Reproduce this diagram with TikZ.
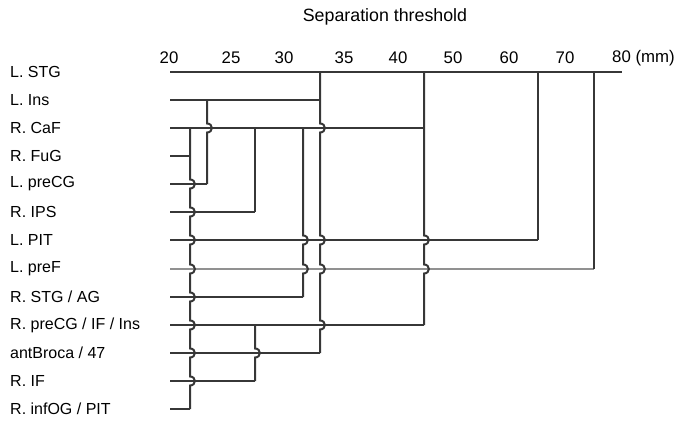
\documentclass[tikz,border=0pt]{standalone}
\usepackage{fontspec}
\setmainfont{Liberation Sans}
\definecolor{linec}{RGB}{55,55,55}
\definecolor{lightc}{RGB}{145,145,145}
\newcommand\vbr[4]{%
  \draw[lnk] (#1,{ry(#2)})
    \foreach \k in {#4} { -- (#1,{ry(\k)-4.5}) .. controls ({#1+6.5},{ry(\k)-4.5}) and ({#1+6.5},{ry(\k)+4.5}) .. (#1,{ry(\k)+4.5}) }
    -- (#1,{ry(#3)});}
\begin{document}
\begin{tikzpicture}[x=1pt,y=-1pt,
  declare function={ry(\i)=round(72+28.08*\i);},
  lnk/.style={draw=linec, line width=2pt},
  lbl/.style={anchor=west, inner sep=0pt, font=\fontsize{16}{18}\selectfont},
  tick/.style={inner sep=0pt, font=\fontsize{16.8}{18}\selectfont}]
\useasboundingbox (0,0) rectangle (679,422);
% title and axis labels
\node[inner sep=0pt, font=\fontsize{17.8}{20}\selectfont] (title) at (385,17) {Separation threshold};
\node[tick] (t20) at (169,58) {20};
\node[tick] (t25) at (231,58) {25};
\node[tick] (t30) at (284,58) {30};
\node[tick] (t35) at (344,58) {35};
\node[tick] (t40) at (398,58) {40};
\node[tick] (t50) at (453,58) {50};
\node[tick] (t60) at (509,58) {60};
\node[tick] (t70) at (565,58) {70};
\node[tick,anchor=west] (t80) at (612,58) {80 (mm)};
% row labels
\node[lbl] (l0) at (10,{ry(0)}) {L. STG};
\node[lbl] (l1) at (10,{ry(1)}) {L. Ins};
\node[lbl] (l2) at (10,{ry(2)}) {R. CaF};
\node[lbl] (l3) at (10,{ry(3)}) {R. FuG};
\node[lbl] (l4) at (10,{ry(4)}) {L. preCG};
\node[lbl] (l5) at (10,{ry(5)}) {R. IPS};
\node[lbl] (l6) at (10,{ry(6)}) {L. PIT};
\node[lbl] (l7) at (10,{ry(7)}) {L. preF};
\node[lbl] (l8) at (10,{ry(8)}) {R. STG / AG};
\node[lbl] (l9) at (10,{ry(9)}) {R. preCG / IF / Ins};
\node[lbl] (l10) at (10,{ry(10)}) {antBroca / 47};
\node[lbl] (l11) at (10,{ry(11)}) {R. IF};
\node[lbl] (l12) at (10,{ry(12)}) {R. infOG / PIT};
% row lines
\foreach \i/\e in {0/622,1/320,2/424,3/190,4/207,5/255,6/538,8/303,9/424,10/320,11/255,12/190}{
  \coordinate (s\i) at (170,{ry(\i)});
  \coordinate (e\i) at (\e,{ry(\i)});
  \draw[lnk] (s\i) -- (e\i);
}
\coordinate (s7) at (170,{ry(7)});
\coordinate (e7) at (594,{ry(7)});
\draw[lnk,draw=lightc] (s7) -- (e7);
% vertical joins with hops
\vbr{190}{2}{12}{4,5,6,7,8,9,10,11}
\vbr{207}{1}{4}{2}
\draw[lnk] (255,{ry(2)}) -- (255,{ry(5)});
\vbr{255}{9}{11}{10}
\vbr{303}{2}{8}{6,7}
\vbr{320}{0}{10}{2,6,7,9}
\vbr{424}{0}{9}{6,7}
\draw[lnk] (e6) -- (538,{ry(0)});
\draw[lnk] (e7) -- (594,{ry(0)});
\end{tikzpicture}
\end{document}
